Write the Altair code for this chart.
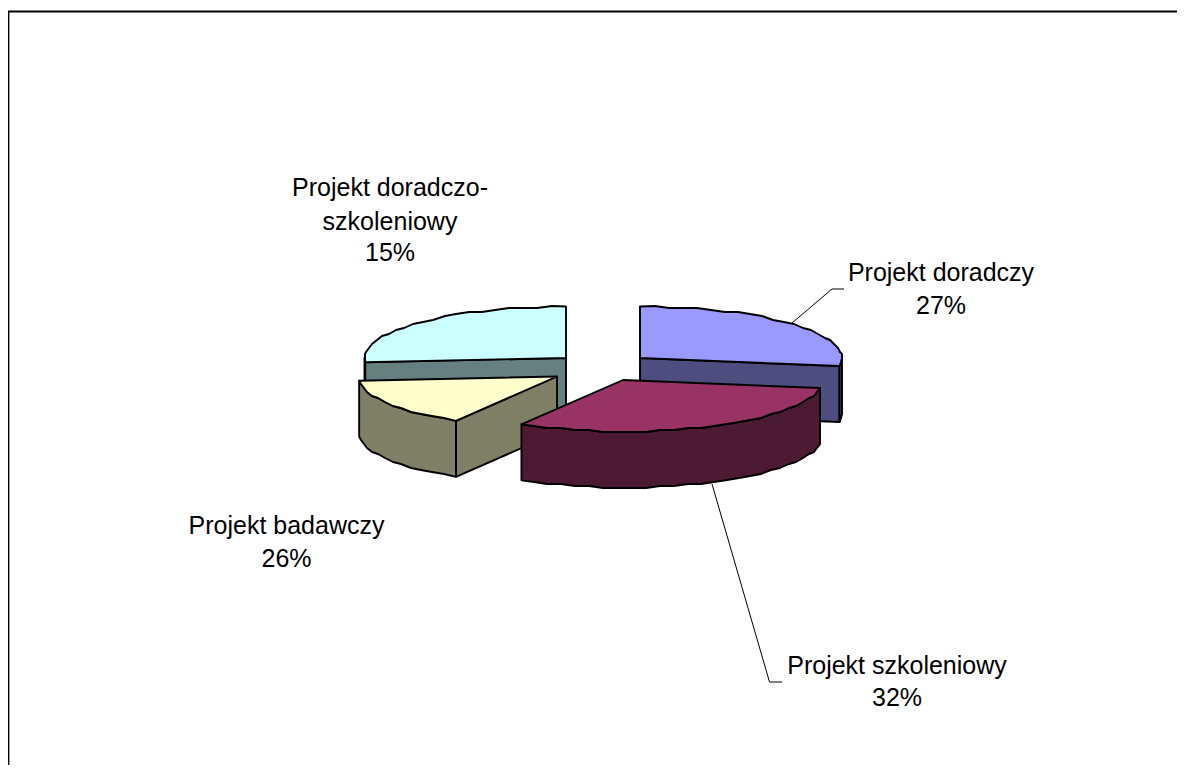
import numpy as np
import altair as alt

# slice values as drawn (clockwise from 12 o'clock) and as printed
names = ["Projekt doradczy", "Projekt szkoleniowy", "Projekt badawczy", "Projekt doradczo-szkoleniowy"]
drawn_shares = [27.5, 31.0, 15.2, 26.3]
printed_pct = ["27%", "32%", "26%", "15%"]
top_colors = ["#9999FF", "#993366", "#FFFFCC", "#CCFFFF"]
wall_colors = ["#4D4D80", "#4D1A33", "#808066", "#668080"]
label_lines = [["Projekt doradczy"], ["Projekt szkoleniowy"], ["Projekt badawczy"], ["Projekt doradczo-", "szkoleniowy"]]

# layout (page pixels)
OX, OY = 8, 8
centers = [(640, 358), (623, 380), (557, 376.5), (566, 358)]
radii_x = [202, 199.5, 198.5, 201.5]
RY, DEPTH = 51.5, 56
GRID = 2.0
label_x = [941, 897, 286.5, 390]
label_y = [[281, 314], [674, 706], [534, 567], [195.5, 229.5, 260.5]]
FONT = 25


def snap(v):
    return float(np.round(v / GRID) * GRID)


def arc(c, rx, t1, t2, dy=0.0):
    n = max(2, int(abs(t2 - t1) / 4) + 1)
    pts = []
    for t in np.linspace(t1, t2, n):
        a = np.radians(t)
        x = c[0] + rx * np.sin(a)
        y = c[1] - RY * np.cos(a) + dy
        end = t == t1 or t == t2
        pts.append([x - OX, y - OY] if end else [float(round(x)) - OX, snap(y) - OY])
    return pts


def poly(pts, fill):
    ring = [list(p) for p in pts] + [list(pts[0])]
    return {"type": "Feature", "properties": {"fill": fill},
            "geometry": {"type": "Polygon", "coordinates": [ring]}}


def line(pts):
    return {"type": "Feature", "properties": {},
            "geometry": {"type": "LineString",
                         "coordinates": [[x - OX, y - OY] for x, y in pts]}}


edges = np.concatenate([[0], np.cumsum(drawn_shares)]) * 3.6
features = []
for i in [0, 3, 2, 1]:
    c, rx = centers[i], radii_x[i]
    t1, t2 = float(edges[i]), float(edges[i + 1])
    ctr = [c[0] - OX, c[1] - OY]
    ctr_low = [ctr[0], ctr[1] + DEPTH]
    for t in ([t2] if t2 < 180 else []) + ([t1] if t1 > 180 else []):
        p = arc(c, rx, t, t + 1e-6)[0]
        features.append(poly([ctr, p, [p[0], p[1] + DEPTH], ctr_low], wall_colors[i]))
    lo, hi = max(t1, 90), min(t2, 270)
    if hi > lo:
        up = arc(c, rx, lo, hi)
        down = arc(c, rx, lo, hi, DEPTH)
        features.append(poly(up + down[::-1], wall_colors[i]))
    features.append(poly([ctr] + arc(c, rx, t1, t2), top_colors[i]))

proj = dict(type="identity", scale=1, translate=[0, 0])


def geo(feats):
    return alt.InlineData(values={"type": "FeatureCollection", "features": feats},
                          format=alt.DataFormat(property="features", type="json"))


slices = alt.Chart(geo(features)).mark_geoshape(
    stroke="black", strokeWidth=1.9, strokeJoin="round"
).encode(fill=alt.Color("properties.fill:N", scale=None)).project(**proj)

leaders = [line([(792, 323), (832, 289), (844, 289)]),
           line([(712, 484), (769.5, 682), (782, 682)])]
lead = alt.Chart(geo(leaders)).mark_geoshape(
    filled=False, stroke="black", strokeWidth=1
).project(**proj)

frame = alt.Chart(geo([line([(8.5, 773), (8.5, 11.5), (1185, 11.5)])])).mark_geoshape(
    filled=False, stroke="black", strokeWidth=1.8
).project(**proj)

rows = []
for i in range(4):
    lines = label_lines[i] + [printed_pct[i]]
    for text, y in zip(lines, label_y[i]):
        rows.append({"lon": label_x[i] - OX, "lat": y - OY, "text": text})

texts = alt.Chart(alt.Data(values=rows)).mark_text(
    font="Liberation Sans", fontSize=FONT, color="black", align="center", baseline="alphabetic"
).encode(longitude="lon:Q", latitude="lat:Q", text="text:N").project(**proj)

chart = alt.layer(frame, lead, slices, texts).properties(
    width=1169, height=757, padding=0, autosize=alt.AutoSizeParams(type="none")
).configure_view(stroke=None)

chart.save("out.html", embed_options={"renderer": "svg", "actions": False})
